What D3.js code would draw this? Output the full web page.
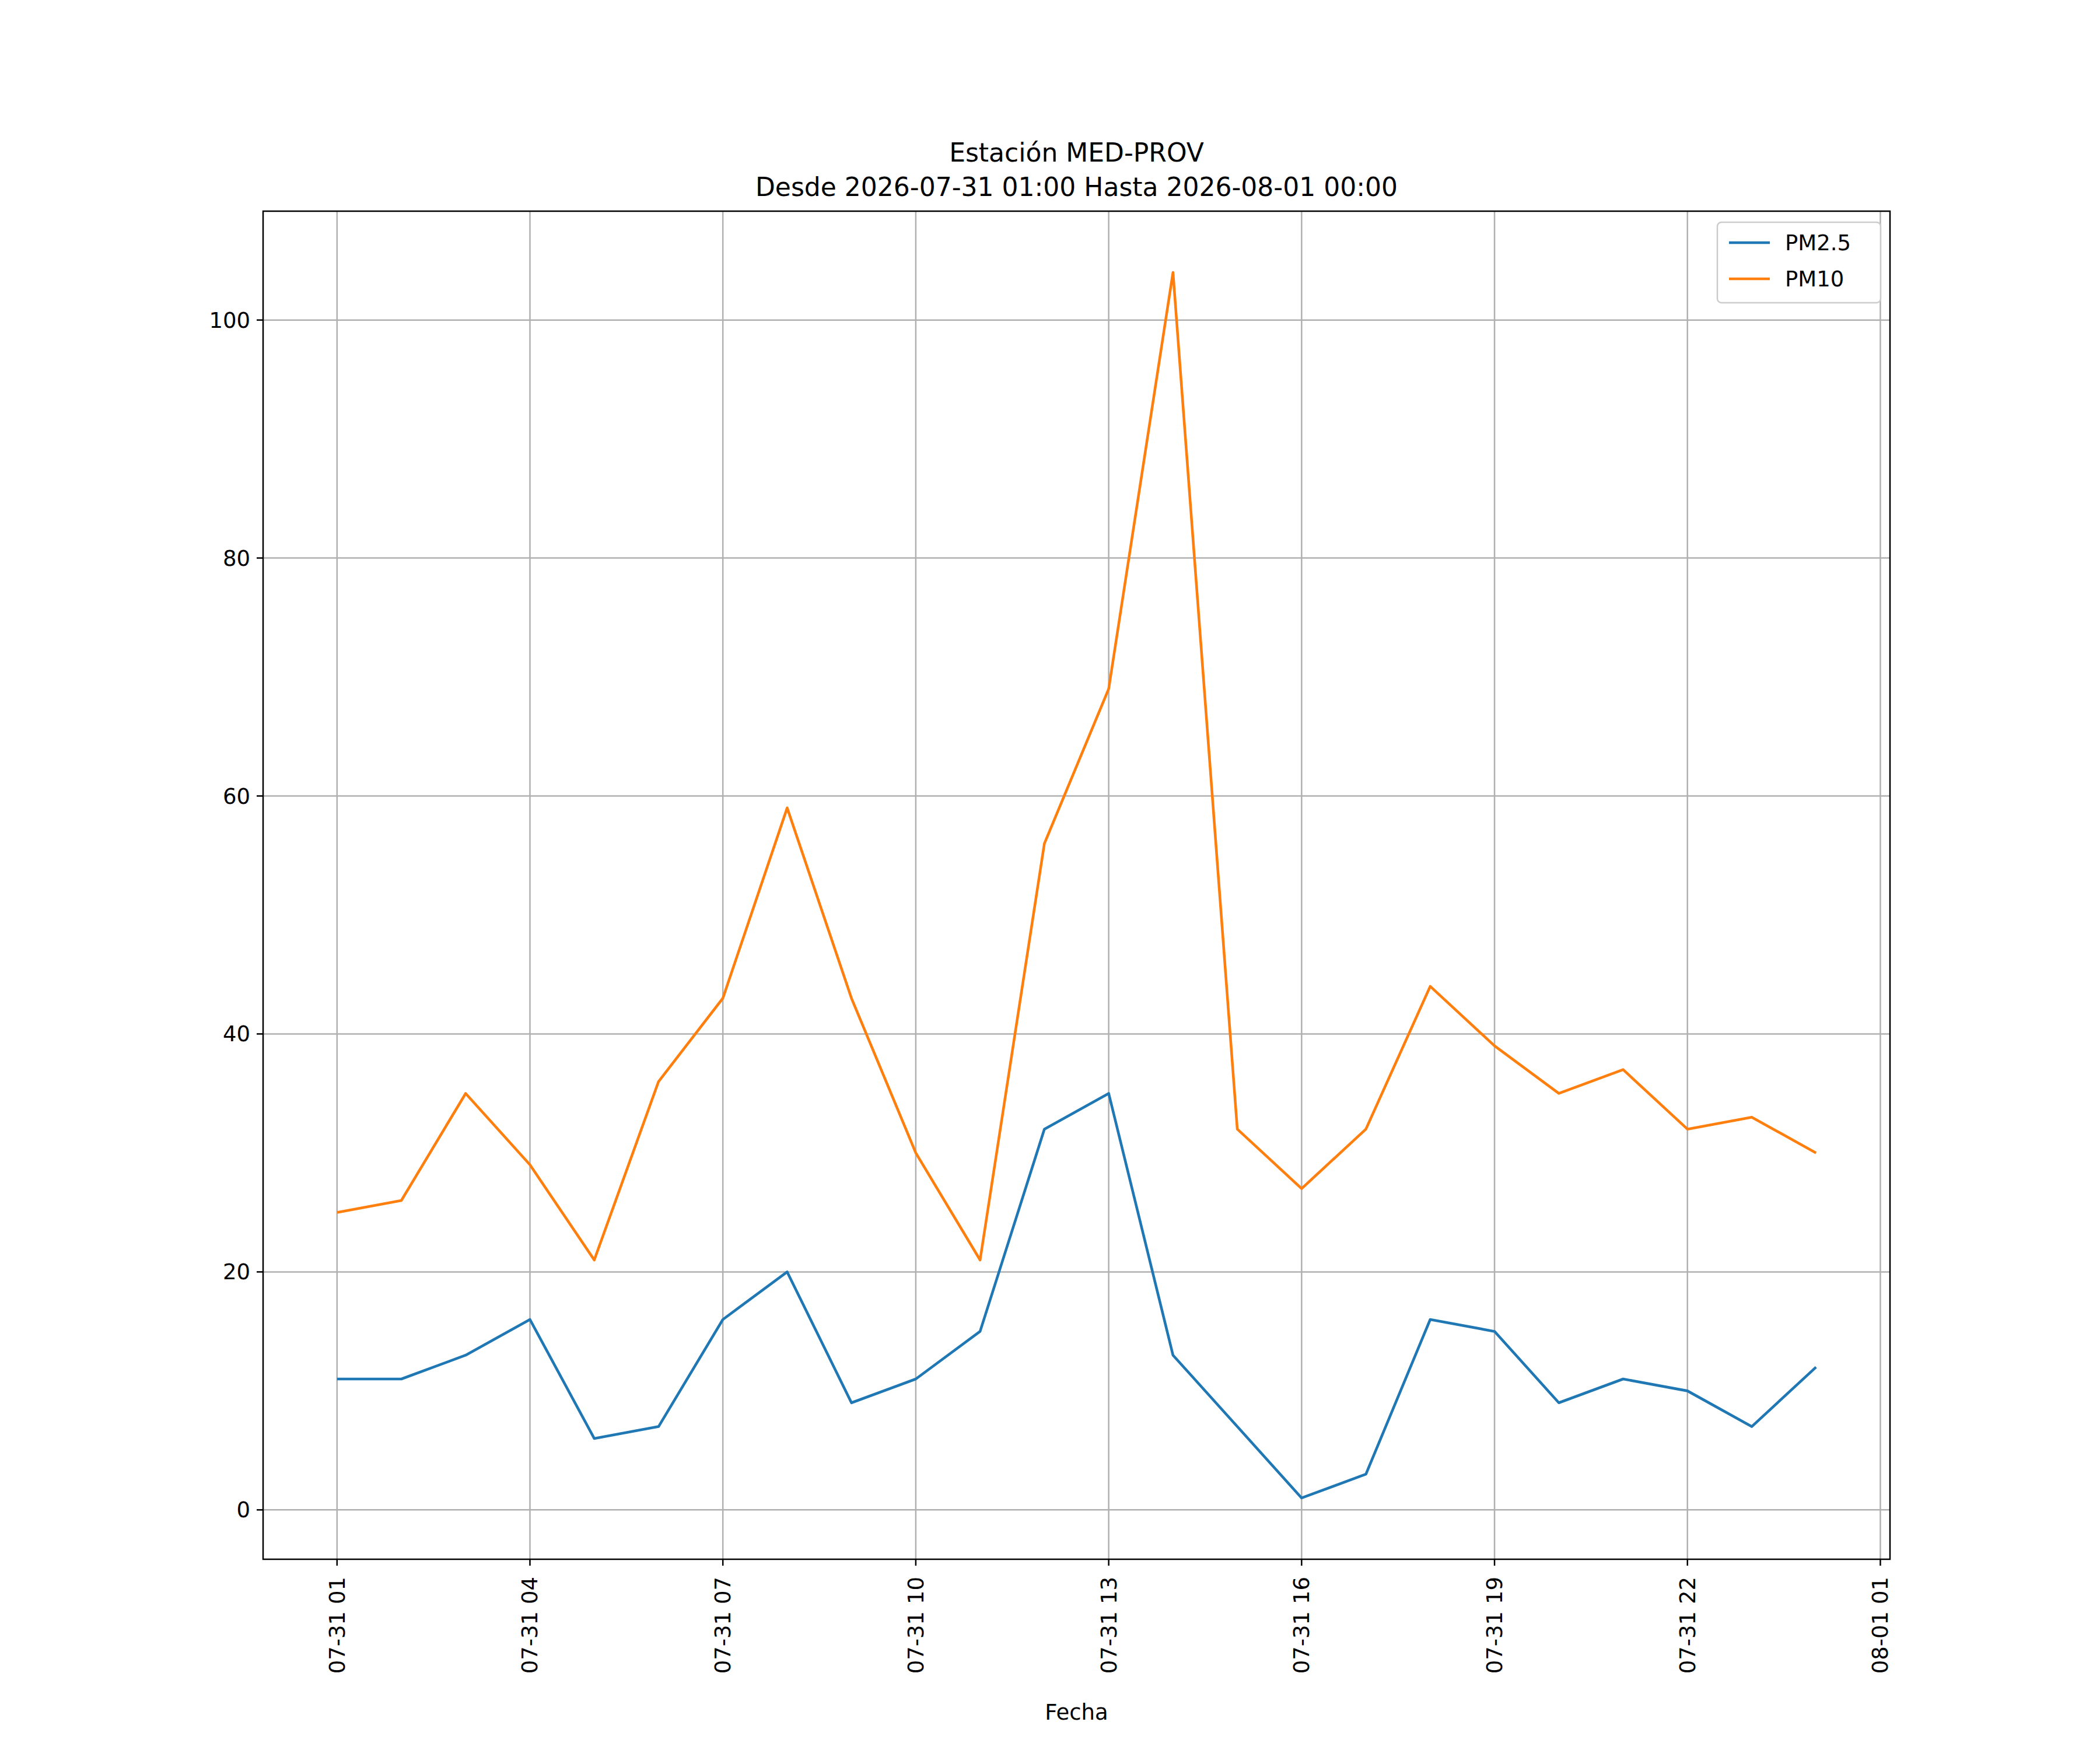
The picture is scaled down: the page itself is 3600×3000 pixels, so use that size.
<!DOCTYPE html>
<html><head><meta charset="utf-8">
<script src="https://cdn.jsdelivr.net/npm/d3@7"></script>
<style>body{margin:0;background:#fff}text{font-family:"DejaVu Sans",sans-serif}</style>
</head><body>
<script>
const hours = d3.range(24).map(i => new Date(2026, 6, 31, 1 + i));
const pm25 = [11,11,13,16,6,7,16,20,9,11,15,32,35,13,7,1,3,16,15,9,11,10,7,12];
const pm10 = [25,26,35,29,21,36,43,59,43,30,21,56,69,104,32,27,32,44,39,35,37,32,33,30];
const seriesNames = ["PM2.5","PM10"];
const colors = ["#1f77b4","#ff7f0e"];
const yTicks = [0,20,40,60,80,100];
const xTicks = d3.range(9).map(i => new Date(2026, 6, 31, 1 + 3*i));

const W=3600,H=3000, L=451,R=3240,T=362,B=2673;
const svg=d3.select("body").append("svg").attr("width",W).attr("height",H);
const hr=3600e3;
const x=d3.scaleTime().domain([new Date(+hours[0]-1.15*hr), new Date(+hours[23]+1.15*hr)]).range([L,R]);
const y=d3.scaleLinear().domain([-4.15,109.15]).range([B,T]);
const fmt=d3.timeFormat("%m-%d %H");

const g=svg.append("g");
xTicks.forEach(t=>g.append("line").attr("x1",x(t)).attr("x2",x(t)).attr("y1",T).attr("y2",B).attr("stroke","#b0b0b0").attr("stroke-width",2.5));
yTicks.forEach(v=>g.append("line").attr("x1",L).attr("x2",R).attr("y1",y(v)).attr("y2",y(v)).attr("stroke","#b0b0b0").attr("stroke-width",2.5));

[pm25,pm10].forEach((d,i)=>{
  svg.append("path").datum(d).attr("fill","none").attr("stroke",colors[i]).attr("stroke-width",4.6)
   .attr("stroke-linejoin","round")
   .attr("d",d3.line().x((v,j)=>x(hours[j])).y(v=>y(v)));
});

svg.append("rect").attr("x",L).attr("y",T).attr("width",R-L).attr("height",B-T).attr("fill","none").attr("stroke","#000").attr("stroke-width",2.5);

xTicks.forEach(t=>{
  svg.append("line").attr("x1",x(t)).attr("x2",x(t)).attr("y1",B).attr("y2",B+11).attr("stroke","#000").attr("stroke-width",2.5);
  svg.append("text").attr("transform",`translate(${x(t)+13},${B+30}) rotate(-90)`).attr("text-anchor","end")
   .attr("font-size",37).text(fmt(t));
});
yTicks.forEach(v=>{
  svg.append("line").attr("x1",L-11).attr("x2",L).attr("y1",y(v)).attr("y2",y(v)).attr("stroke","#000").attr("stroke-width",2.5);
  svg.append("text").attr("x",L-22).attr("y",y(v)+13).attr("text-anchor","end").attr("font-size",37).text(v);
});

svg.append("text").attr("x",(L+R)/2).attr("y",2948).attr("text-anchor","middle").attr("font-size",37).text("Fecha");
svg.append("text").attr("x",(L+R)/2).attr("y",277).attr("text-anchor","middle").attr("font-size",44).text("Estación MED-PROV");
svg.append("text").attr("x",(L+R)/2).attr("y",336).attr("text-anchor","middle").attr("font-size",44).text("Desde 2026-07-31 01:00 Hasta 2026-08-01 00:00");

const lg=svg.append("g");
lg.append("rect").attr("x",2944).attr("y",381).attr("width",280).attr("height",138).attr("rx",7)
  .attr("fill","#fff").attr("fill-opacity",0.8).attr("stroke","#ccc").attr("stroke-width",2.5);
seriesNames.forEach((n,i)=>{
  const yy=416+i*62;
  lg.append("line").attr("x1",2964).attr("x2",3034).attr("y1",yy).attr("y2",yy).attr("stroke",colors[i]).attr("stroke-width",4.6);
  lg.append("text").attr("x",3060).attr("y",yy+13).attr("font-size",37).text(n);
});
</script>
</body></html>
